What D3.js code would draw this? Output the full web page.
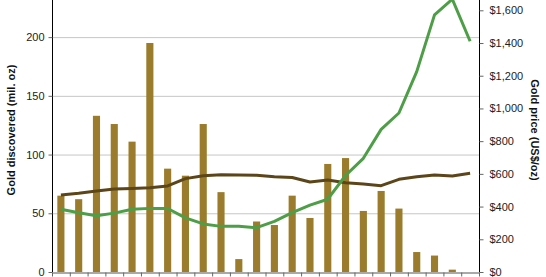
<!DOCTYPE html>
<html>
<head>
<meta charset="utf-8">
<script src="https://cdn.jsdelivr.net/npm/d3@7"></script>
<style>
  html, body { margin: 0; padding: 0; background: #fff; }
  svg { display: block; font-family: "Liberation Sans", Arial, sans-serif; }
</style>
</head>
<body>
<svg id="chart" width="546" height="277"></svg>
<script>
// Data (years 1990-2013)
const years = d3.range(1990, 2014);
const discovered = [65, 62, 133, 126, 111, 195, 88, 82, 126, 68, 11, 43, 40, 65, 46, 92, 97, 52, 69, 54, 17, 14, 2, 0];
const goldPrice = [384, 362, 344, 360, 384, 389, 388, 331, 294, 279, 279, 271, 310, 363, 409, 445, 590, 695, 872, 972, 1225, 1572, 1668, 1411];
const trendLine = [65.6, 67, 69, 70.7, 71.2, 71.8, 73.3, 79.5, 82, 82.9, 82.6, 82.3, 81.1, 80.5, 76.6, 78.3, 76, 74.9, 73.5, 78.9, 81.1, 82.6, 81.7, 84];
const leftTicks = [0, 50, 100, 150, 200];
const rightTicks = [0, 200, 400, 600, 800, 1000, 1200, 1400, 1600];

const margin = { left: 52, right: 67, top: 0, bottom: 5 };
const W = 546, H = 277;
const x0 = margin.left, x1 = W - margin.right, y0 = H - margin.bottom, y1 = margin.top;

const svg = d3.select("#chart");

const x = d3.scaleBand().domain(years).range([x0, x1]).paddingInner(0.6).paddingOuter(0.3);
const xb = d3.scaleLinear().domain([0, years.length]).range([x0, x1]);
const yL = d3.scaleLinear().domain([0, 231.6]).range([y0, y1]);
const yR = d3.scaleLinear().domain([0, 1663]).range([y0, y1]);

// gridlines
svg.append("g").selectAll("line").data(leftTicks.filter(d => d > 0)).join("line")
  .attr("x1", x0).attr("x2", x1)
  .attr("y1", d => yL(d) + 0.5).attr("y2", d => yL(d) + 0.5)
  .attr("stroke", "#c6c6c6").attr("stroke-width", 1);

// bars
svg.append("g").selectAll("rect").data(years).join("rect")
  .attr("x", d => x(d))
  .attr("width", x.bandwidth())
  .attr("y", (d, i) => yL(discovered[i]))
  .attr("height", (d, i) => y0 - yL(discovered[i]))
  .attr("fill", "#9a7c2c");

const cx = d => x(d) + x.bandwidth() / 2;

// brown line (left axis)
svg.append("path")
  .datum(years)
  .attr("fill", "none")
  .attr("stroke", "#5c4619")
  .attr("stroke-width", 3)
  .attr("stroke-linejoin", "round")
  .attr("d", d3.line().x(cx).y((d, i) => yL(trendLine[i])));

// green line (right axis)
svg.append("path")
  .datum(years)
  .attr("fill", "none")
  .attr("stroke", "#4d9e47")
  .attr("stroke-width", 3)
  .attr("stroke-linejoin", "round")
  .attr("d", d3.line().x(cx).y((d, i) => yR(goldPrice[i])));

// left axis
const gL = svg.append("g").attr("transform", `translate(${x0 + 0.5},0)`)
  .call(d3.axisLeft(yL).tickValues(leftTicks).tickSize(4).tickSizeOuter(0).tickPadding(4));
gL.select(".domain").attr("stroke", "#000").attr("d", `M0,${y1}V${y0}`);
gL.selectAll(".tick line").attr("stroke", "#666");
gL.selectAll("text").attr("font-size", "11px").attr("fill", "#222").attr("font-family", "Liberation Sans, Arial, sans-serif");

// right axis
const gR = svg.append("g").attr("transform", `translate(${x1 + 0.5},0)`)
  .call(d3.axisRight(yR).tickValues(rightTicks).tickSize(4).tickSizeOuter(0).tickPadding(6)
    .tickFormat(d => "$" + d3.format(",")(d)));
gR.select(".domain").attr("stroke", "#000").attr("d", `M0,${y1}V${y0}`);
gR.selectAll(".tick line").attr("stroke", "#666");
gR.selectAll("text").attr("font-size", "11px").attr("fill", "#222").attr("font-family", "Liberation Sans, Arial, sans-serif");

// bottom axis
const gB = svg.append("g").attr("transform", `translate(0,${y0 + 0.5})`)
  .call(d3.axisBottom(xb).tickValues(d3.range(0, years.length + 1)).tickSize(4).tickSizeOuter(0).tickFormat(""));
gB.select(".domain").attr("stroke", "#555");
gB.selectAll(".tick line").attr("stroke", "#666");

// axis titles
svg.append("text")
  .attr("transform", `translate(15,${(y0 + 0) / 2 - 6}) rotate(-90)`)
  .attr("text-anchor", "middle")
  .attr("font-size", "11px").attr("font-weight", "bold").attr("fill", "#111")
  .text("Gold discovered (mil. oz)");

svg.append("text")
  .attr("transform", `translate(531,${(y0 + 0) / 2 - 6}) rotate(90)`)
  .attr("text-anchor", "middle")
  .attr("font-size", "11px").attr("font-weight", "bold").attr("fill", "#111")
  .text("Gold price (US$/oz)");
</script>
</body>
</html>
